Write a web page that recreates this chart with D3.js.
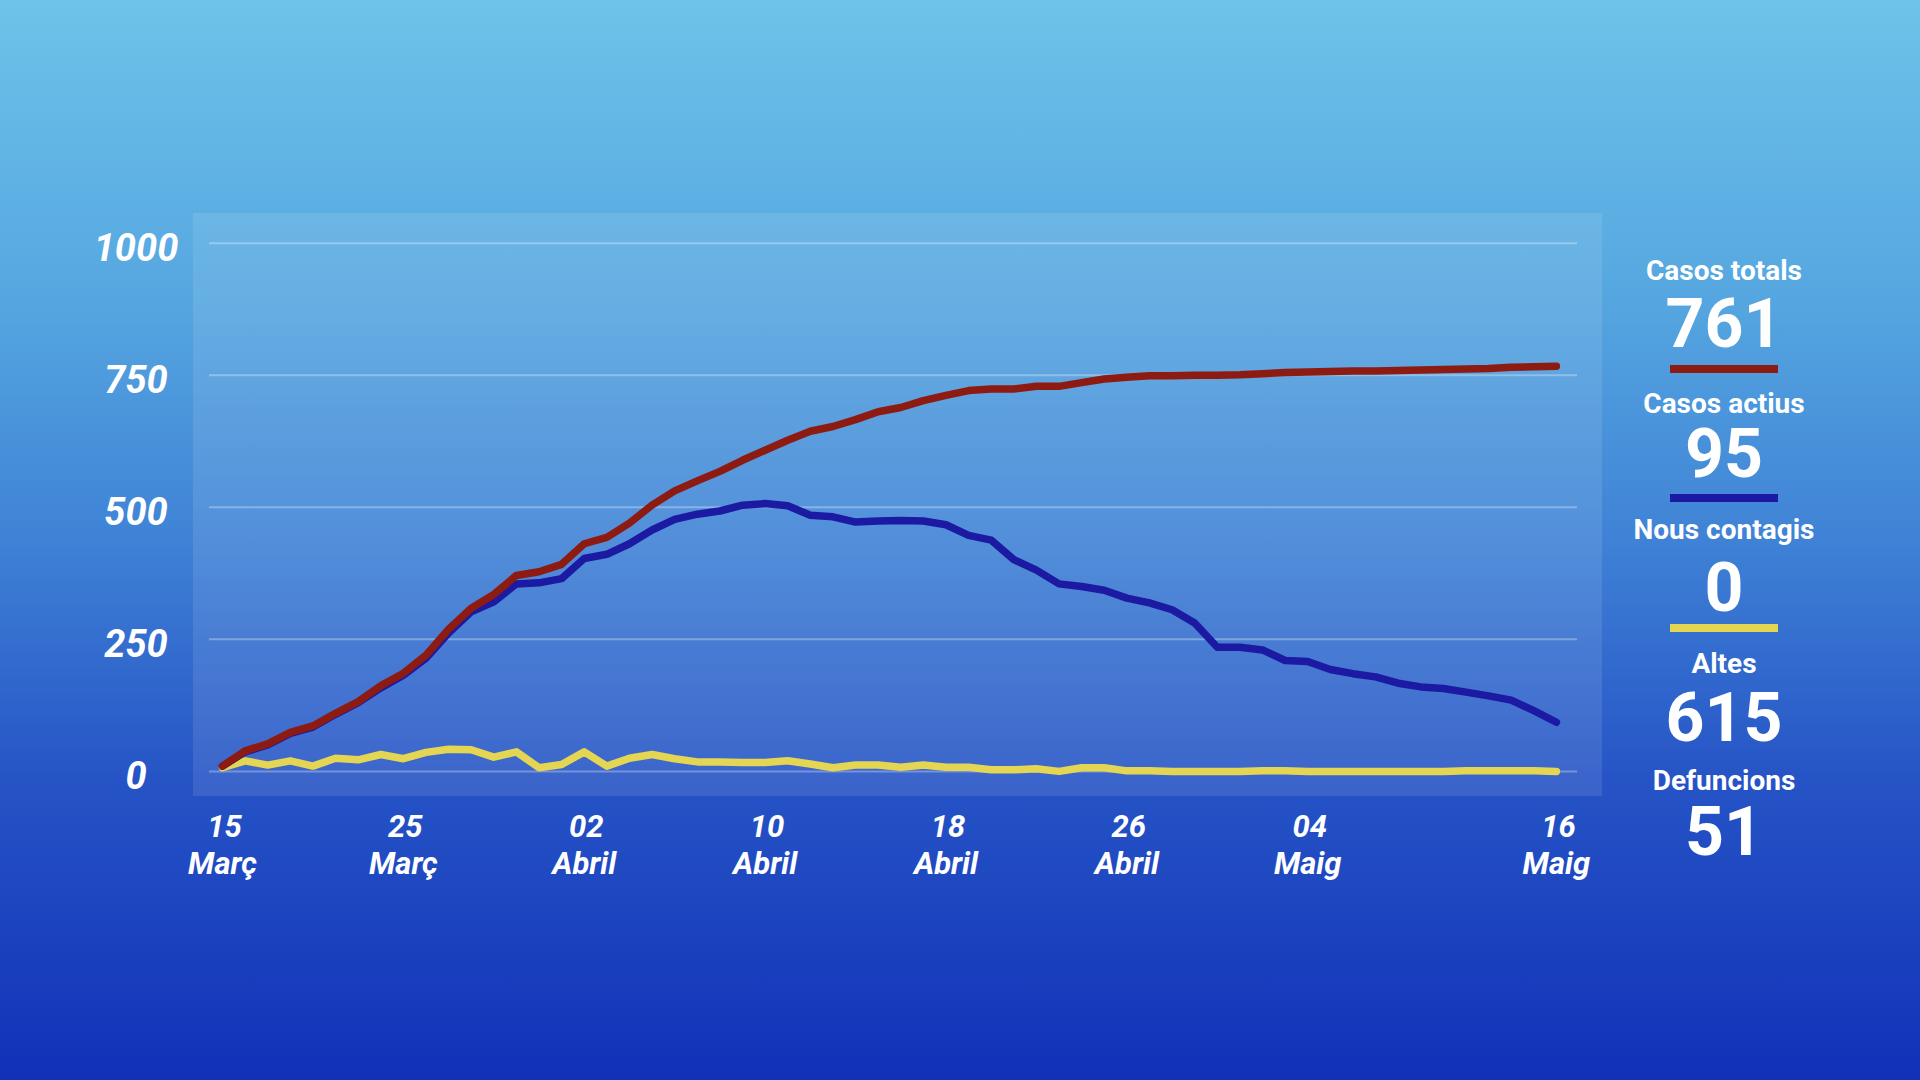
<!DOCTYPE html>
<html>
<head>
<meta charset="utf-8">
<script src="https://cdn.jsdelivr.net/npm/d3@7"></script>
<style>
  html, body { margin: 0; padding: 0; width: 1920px; height: 1080px; overflow: hidden; }
  svg { display: block; }
  text { font-family: Roboto, "Open Sans", "Liberation Sans", sans-serif; fill: #ffffff; }
</style>
</head>
<body>
<svg id="chart" width="1920" height="1080"></svg>
<script>
// ---------- DATA ----------
const dayIndex = d3.range(60);
const casosTotals = [10,39,52,74,86,110,132,162,186,220,269,309,335,371,378,392,
  431,443,470,504,531,550,568,589,608,627,644,653,666,681,689,
  702,712,721,724,724,729,729,736,743,746,749,749,750,750,751,
  753,755,756,757,758,758,759,760,761,762,763,765,766,767];
const casosActius = [10,37,50,72,84,108,130,158,182,214,262,302,321,355,357,365,
  403,411,431,457,477,487,493,504,507,503,485,482,472,474,475,
  474,467,447,438,401,381,355,350,343,328,319,306,281,235,235,
  230,210,208,193,185,179,167,160,157,150,143,135,115,93];
const nousContagis = [7,20,12,20,10,25,22,32,24,36,42,41,27,37,7,13,
  37,10,25,32,24,18,18,17,17,20,14,7,12,12,8,
  12,8,8,3,3,5,0,7,7,1,1,0,0,0,0,
  1,1,0,0,0,0,0,0,0,1,1,1,1,0];

const yTicks = [0, 250, 500, 750, 1000];
const xTickIndex = [0, 8, 16, 24, 32, 40, 48, 59];
const xTickDay = ["15", "25", "02", "10", "18", "26", "04", "16"];
const xTickMonth = ["Març", "Març", "Abril", "Abril", "Abril", "Abril", "Maig", "Maig"];

const legendLabels = ["Casos totals", "Casos actius", "Nous contagis", "Altes", "Defuncions"];
const legendValues = ["761", "95", "0", "615", "51"];
const seriesColors = ["#8e1b12", "#1c1aa3", "#e4d553"];

// ---------- LAYOUT ----------
const svg = d3.select("#chart");
const W = 1920, H = 1080;

const defs = svg.append("defs");
const bg = defs.append("linearGradient").attr("id", "bg")
  .attr("x1", 0).attr("y1", 0).attr("x2", 0).attr("y2", 1);
[[0, "#6dc3e9"], [0.28, "#55a6e0"], [0.5, "#3f82d6"], [0.72, "#2654c6"], [1, "#1131b8"]]
  .forEach(([o, c]) => bg.append("stop").attr("offset", o).attr("stop-color", c));

svg.append("rect").attr("width", W).attr("height", H).attr("fill", "url(#bg)");

const panel = { left: 193, top: 213, right: 1602, bottom: 796 };
svg.append("rect")
  .attr("x", panel.left).attr("y", panel.top)
  .attr("width", panel.right - panel.left).attr("height", panel.bottom - panel.top)
  .attr("fill", "rgba(255,255,255,0.1)");

const x = d3.scaleLinear().domain([0, 59]).range([222.5, 1556.4]);
const y = d3.scaleLinear().domain([0, 1000]).range([771.4, 243.2]);

// gridlines
svg.append("g").selectAll("line").data(yTicks).join("line")
  .attr("x1", 209).attr("x2", 1577)
  .attr("y1", d => y(d)).attr("y2", d => y(d))
  .attr("stroke", "rgba(255,255,255,0.3)").attr("stroke-width", 2);

// y labels
svg.append("g").selectAll("text").data(yTicks).join("text")
  .attr("x", 136).attr("y", d => y(d) + 18)
  .attr("text-anchor", "middle")
  .attr("font-size", 38).attr("font-weight", 700).attr("font-style", "italic")
  .text(d => d);

// x labels (two separate lines)
const xg = svg.append("g")
  .attr("font-size", 31).attr("font-weight", 700).attr("font-style", "italic")
  .attr("text-anchor", "middle");
xg.selectAll("text.day").data(xTickIndex).join("text").attr("class", "day")
  .attr("x", d => x(d) + 2).attr("y", 837).text((d, i) => xTickDay[i]);
xg.selectAll("text.month").data(xTickIndex).join("text").attr("class", "month")
  .attr("x", d => x(d)).attr("y", 874).text((d, i) => xTickMonth[i]);

// lines
const line = d3.line().x((d, i) => x(dayIndex[i])).y(d => y(d));
const series = [nousContagis, casosActius, casosTotals];
const seriesColorOrder = [seriesColors[2], seriesColors[1], seriesColors[0]];
svg.append("g").selectAll("path").data(series).join("path")
  .attr("d", d => line(d))
  .attr("fill", "none")
  .attr("stroke", (d, i) => seriesColorOrder[i])
  .attr("stroke-width", 7.5)
  .attr("stroke-linejoin", "round")
  .attr("stroke-linecap", "round");

// ---------- LEGEND ----------
const legendX = 1724;
const labelBaselines = [280, 413, 539, 673, 790];
const valueBaselines = [347, 477, 611, 741, 855];
const barTops = [365, 494, 624];

const lg = svg.append("g");
lg.selectAll("text.lab").data(legendLabels).join("text").attr("class", "lab")
  .attr("x", legendX).attr("y", (d, i) => labelBaselines[i])
  .attr("text-anchor", "middle").attr("font-size", 28).attr("font-weight", 700)
  .text(d => d);
lg.selectAll("text.val").data(legendValues).join("text").attr("class", "val")
  .attr("x", legendX).attr("y", (d, i) => valueBaselines[i])
  .attr("text-anchor", "middle").attr("font-size", 68).attr("font-weight", 700)
  .text(d => d);
lg.selectAll("rect").data(seriesColors).join("rect")
  .attr("x", legendX - 54).attr("y", (d, i) => barTops[i])
  .attr("width", 108).attr("height", 8)
  .attr("fill", d => d);
</script>
</body>
</html>
